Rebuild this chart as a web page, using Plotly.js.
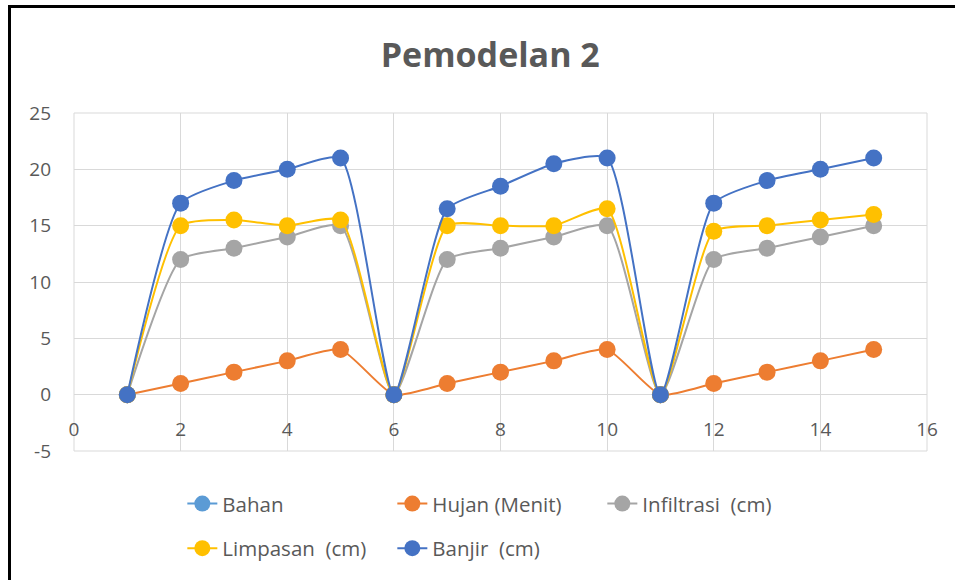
<!DOCTYPE html>
<html>
<head>
<meta charset="utf-8">
<script src="https://cdn.plot.ly/plotly-3.0.1.min.js"></script>
<style>
  html, body { margin: 0; padding: 0; background: #ffffff; overflow: hidden; }
  #frame { position: absolute; left: 8px; top: 5px; width: 960px; height: 590px;
           border-left: 3px solid #000; border-top: 3px solid #000; box-sizing: border-box; }
  #chart { position: absolute; left: 0; top: 0; width: 955px; height: 580px; }
</style>
</head>
<body>
<div id="frame"></div>
<div id="chart"></div>
<script>
// ---- data ----
const xValues = [1, 2, 3, 4, 5, 6, 7, 8, 9, 10, 11, 12, 13, 14, 15];
const bahan = [0, null, null, null, null, 0, null, null, null, null, 0, null, null, null, null];
const hujan = [0, 1, 2, 3, 4, 0, 1, 2, 3, 4, 0, 1, 2, 3, 4];
const infiltrasi = [0, 12, 13, 14, 15, 0, 12, 13, 14, 15, 0, 12, 13, 14, 15];
const limpasan = [0, 15, 15.5, 15, 15.5, 0, 15, 15, 15, 16.5, 0, 14.5, 15, 15.5, 16];
const banjir = [0, 17, 19, 20, 21, 0, 16.5, 18.5, 20.5, 21, 0, 17, 19, 20, 21];
const seriesNames = ['Bahan', 'Hujan (Menit)', 'Infiltrasi  (cm)', 'Limpasan  (cm)', 'Banjir  (cm)'];
const xTicks = [0, 2, 4, 6, 8, 10, 12, 14, 16];
const yTicks = [-5, 0, 5, 10, 15, 20, 25];

const colors = ['#5B9BD5', '#ED7D31', '#A5A5A5', '#FFC000', '#4472C4'];
const legendOf = ['legend', 'legend', 'legend', 'legend2', 'legend2'];
const ys = [bahan, hujan, infiltrasi, limpasan, banjir];

const traces = ys.map((y, i) => ({
  type: 'scatter',
  mode: 'lines+markers',
  x: xValues,
  y: y,
  name: seriesNames[i],
  legend: legendOf[i],
  connectgaps: false,
  line: { color: colors[i], width: 2, shape: 'spline', smoothing: 0.55 },
  marker: { color: colors[i], size: 17, line: { width: 0 } },
  hoverinfo: 'x+y+name'
}));

const tickFont = { family: 'Open Sans, sans-serif', size: 19, color: '#595959' };
const legendFont = { family: 'Open Sans, sans-serif', size: 20.5, color: '#595959' };

const layout = {
  width: 955,
  height: 580,
  paper_bgcolor: 'rgba(0,0,0,0)',
  plot_bgcolor: 'rgba(0,0,0,0)',
  margin: { l: 74, r: 28, t: 113, b: 127 },
  title: {
    text: 'Pemodelan 2',
    x: 0.488, xref: 'paper', xanchor: 'center',
    y: 0.905, yref: 'container', yanchor: 'middle',
    font: { family: 'Open Sans, sans-serif', size: 34, color: '#595959', weight: 'bold' }
  },
  xaxis: {
    range: [0, 16],
    tickmode: 'array',
    tickvals: xTicks,
    ticktext: xTicks.map(String),
    showgrid: true,
    gridcolor: '#d9d9d9',
    gridwidth: 1,
    zeroline: false,
    showline: false,
    ticks: '',
    ticklabelstandoff: 21,
    tickfont: tickFont,
    anchor: 'free',
    position: 1 / 6
  },
  yaxis: {
    range: [-5, 25],
    tickmode: 'array',
    tickvals: yTicks,
    ticktext: yTicks.map(String),
    showgrid: true,
    gridcolor: '#d9d9d9',
    gridwidth: 1,
    zeroline: false,
    showline: false,
    ticks: '',
    ticklabelstandoff: 22,
    tickfont: tickFont
  },
  shapes: [
    { type: 'rect', xref: 'paper', yref: 'paper', x0: 0, x1: 1, y0: 0, y1: 1,
      line: { color: '#d9d9d9', width: 1 }, fillcolor: 'rgba(0,0,0,0)', layer: 'below' }
  ],
  showlegend: true,
  legend: {
    orientation: 'h',
    x: 0.127, xanchor: 'left',
    y: -0.156, yanchor: 'middle',
    font: legendFont,
    entrywidth: 165, entrywidthmode: 'pixels',
    bgcolor: 'rgba(0,0,0,0)',
    traceorder: 'normal'
  },
  legend2: {
    orientation: 'h',
    x: 0.127, xanchor: 'left',
    y: -0.288, yanchor: 'middle',
    font: legendFont,
    entrywidth: 165, entrywidthmode: 'pixels',
    bgcolor: 'rgba(0,0,0,0)',
    traceorder: 'normal'
  },
  hovermode: 'closest'
};

Plotly.newPlot('chart', traces, layout, { displayModeBar: false, staticPlot: false });
</script>
</body>
</html>
